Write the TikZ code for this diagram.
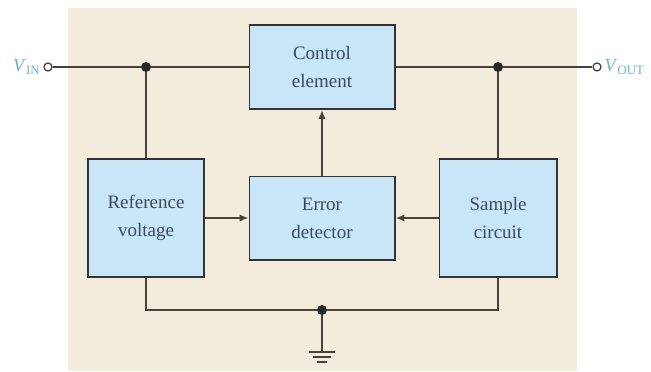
\documentclass[tikz,border=0pt]{standalone}
\usepackage{fontspec}
\setmainfont{Liberation Serif}
\usetikzlibrary{arrows.meta}
\definecolor{paper}{HTML}{F3ECDC}
\definecolor{boxfill}{HTML}{C8E6F8}
\definecolor{wirecol}{HTML}{4A4038}
\definecolor{boxtext}{HTML}{3C4C5C}
\definecolor{termtext}{HTML}{6AB0CC}
\tikzset{
  block/.style={draw=black!80, line width=1.4pt, fill=boxfill, text=boxtext,
    align=center, font=\fontsize{13.5}{20}\selectfont},
  wire/.style={draw=wirecol, line width=1.1pt},
  feed/.style={wire, -{Latex[length=2.2mm,width=1.8mm]}},
  junction/.style={circle, fill=black!85, inner sep=0pt, minimum size=2.5mm},
  terminal/.style={circle, draw=wirecol, fill=white, line width=0.9pt,
    inner sep=0pt, minimum size=2mm},
  termlabel/.style={text=termtext, font=\fontsize{13}{15}\selectfont, inner sep=2pt}
}
\begin{document}
\begin{tikzpicture}[x=0.025cm,y=-0.025cm]
  \useasboundingbox (0,0) rectangle (651,371);
  \fill[paper] (68,8) rectangle (577,371);
  % blocks
  \node[block, minimum width=3.625cm, minimum height=2.1cm] (ctrl) at (322,67) {Control\\element};
  \node[block, minimum width=2.9cm, minimum height=2.95cm] (ref) at (146,218) {Reference\\voltage};
  \node[block, minimum width=3.625cm, minimum height=2.075cm] (err) at (322,218) {Error\\detector};
  \node[block, minimum width=2.925cm, minimum height=2.95cm] (samp) at (498,218) {Sample\\circuit};
  % terminals and junctions
  \node[terminal] (vin) at (48,67) {};
  \node[terminal] (vout) at (597,67) {};
  \node[termlabel, anchor=east] (lin) at (vin.west) {\textit{V}\textsubscript{IN}};
  \node[termlabel, anchor=west] (lout) at (vout.east) {\textit{V}\textsubscript{OUT}};
  \node[junction] (jin) at (146,67) {};
  \node[junction] (jout) at (498,67) {};
  \node[junction] (jgnd) at (322,310) {};
  \coordinate (gnd) at (322,352);
  % wires
  \draw[wire] (vin) -- (jin) -- (ctrl);
  \draw[wire] (ctrl) -- (jout) -- (vout);
  \draw[wire] (jin) -- (ref);
  \draw[wire] (jout) -- (samp);
  \draw[feed] (ref) -- (err);
  \draw[feed] (samp) -- (err);
  \draw[feed] (err) -- (ctrl);
  \draw[wire] (ref) |- (jgnd) -| (samp);
  % ground
  \draw[wire] (jgnd) -- (gnd);
  \draw[wire, line width=1.6pt] (gnd) ++(-13,0) -- ++(26,0);
  \draw[wire, line width=1.6pt] (gnd) ++(-9,5) -- ++(18,0);
  \draw[wire, line width=1.6pt] (gnd) ++(-5,10) -- ++(10,0);
\end{tikzpicture}
\end{document}
